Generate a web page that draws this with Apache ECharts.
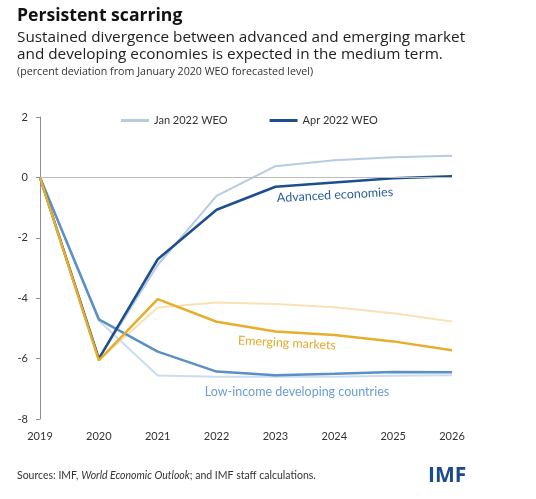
<!DOCTYPE html>
<html>
<head>
<meta charset="utf-8">
<script src="https://cdn.jsdelivr.net/npm/echarts@6/dist/echarts.min.js"></script>
<style>
  html, body { margin: 0; padding: 0; background: #fff; }
  #chart { width: 536px; height: 499px; }
</style>
</head>
<body>
<div id="chart"></div>
<script>
// data
const years = ['2019', '2020', '2021', '2022', '2023', '2024', '2025', '2026'];
const yTicks = [-8, -6, -4, -2, 0, 2];

const advancedJan = [0, -6.0, -2.9, -0.61, 0.37, 0.57, 0.67, 0.72];
const advancedApr = [0, -6.0, -2.71, -1.07, -0.31, -0.17, -0.03, 0.04];
const emergingJan = [0, -6.05, -4.31, -4.14, -4.19, -4.3, -4.5, -4.77];
const emergingApr = [0, -6.06, -4.03, -4.78, -5.1, -5.22, -5.43, -5.72];
const lidcJan = [0, -4.75, -6.56, -6.6, -6.6, -6.6, -6.57, -6.55];
const lidcApr = [0, -4.7, -5.77, -6.43, -6.55, -6.5, -6.44, -6.45];

const chart = echarts.init(document.getElementById('chart'));
const FONT = 'Lato, "Noto Sans", sans-serif';
const HEAD = '"Open Sans", Lato, sans-serif';

function line(name, data, color, width, z) {
    return {
        name: name,
        type: 'line',
        data: data,
        symbol: 'none',
        smooth: false,
        z: z,
        lineStyle: { color: color, width: width },
        itemStyle: { color: color },
        emphasis: { disabled: true }
    };
}

const series = [
    line('Jan 2022 WEO', advancedJan, '#b7cce1', 2, 2),
    line('Jan 2022 WEO', emergingJan, '#f7e3b3', 2, 2),
    line('Jan 2022 WEO', lidcJan, '#cadcee', 2, 2),
    line('Apr 2022 WEO', advancedApr, '#1d4f8e', 2.5, 4),
    line('Apr 2022 WEO', emergingApr, '#e6ae2c', 2.5, 4),
    line('Apr 2022 WEO', lidcApr, '#5b8fc6', 2.5, 3)
];
// zero line
series[0].markLine = {
    silent: true,
    symbol: 'none',
    label: { show: false },
    lineStyle: { color: '#bdbdbd', width: 1, type: 'solid' },
    data: [{ yAxis: 0 }]
};

const option = {
    animation: false,
    textStyle: { fontFamily: FONT },
    grid: { left: 40, right: 84, top: 117, bottom: 80 },
    legend: {
        left: 116,
        top: 110,
        icon: 'rect',
        itemWidth: 28,
        itemHeight: 3,
        itemGap: 42,
        textStyle: { fontFamily: FONT, fontSize: 11, color: '#333' },
        data: [
            { name: 'Jan 2022 WEO', itemStyle: { color: '#b7cce1' } },
            { name: 'Apr 2022 WEO', itemStyle: { color: '#1d4f8e' } }
        ]
    },
    xAxis: {
        type: 'category',
        data: years,
        boundaryGap: false,
        axisLine: { show: false },
        axisTick: { show: false },
        axisLabel: { margin: 12, fontSize: 11, color: '#333', fontFamily: FONT },
        splitLine: { show: false }
    },
    yAxis: {
        type: 'value',
        min: yTicks[0],
        max: yTicks[yTicks.length - 1],
        interval: 2,
        axisLine: { show: true, lineStyle: { color: '#8c8c8c', width: 1 } },
        axisTick: { show: true, length: 4, lineStyle: { color: '#8c8c8c' } },
        axisLabel: { margin: 12, fontSize: 11, color: '#333', fontFamily: FONT },
        splitLine: { show: false }
    },
    series: series,
    graphic: [
        {
            type: 'text', left: 17, top: 7,
            style: { text: 'Persistent scarring', font: 'bold 17.6px ' + HEAD, fill: '#111' }
        },
        {
            type: 'text', left: 17, top: 29,
            style: {
                text: 'Sustained divergence between advanced and emerging market\nand developing economies is expected in the medium term.',
                font: '15.3px ' + HEAD, fill: '#222', lineHeight: 17
            }
        },
        {
            type: 'text', left: 17, top: 66,
            style: { text: '(percent deviation from January 2020 WEO forecasted level)', font: '10.7px ' + HEAD, fill: '#333' }
        },
        {
            type: 'text', x: 335, y: 195, rotation: 3 * Math.PI / 180,
            style: { text: 'Advanced economies', font: '12.5px ' + FONT, fill: '#2a5e9c', align: 'center', verticalAlign: 'middle' }
        },
        {
            type: 'text', x: 287, y: 343, rotation: -3 * Math.PI / 180,
            style: { text: 'Emerging markets', font: '12.5px ' + FONT, fill: '#e3aa2e', align: 'center', verticalAlign: 'middle' }
        },
        {
            type: 'text', x: 297, y: 392,
            style: { text: 'Low-income developing countries', font: '12.5px ' + FONT, fill: '#6b9dd2', align: 'center', verticalAlign: 'middle' }
        },
        {
            type: 'text', left: 17, top: 470,
            style: {
                text: '{n|Sources: IMF, }{i|World Economic Outlook}{n|; and IMF staff calculations.}',
                rich: {
                    n: { font: '10.5px ' + FONT, fill: '#333' },
                    i: { font: 'italic 10.5px ' + FONT, fill: '#333' }
                }
            }
        },
        {
            type: 'text', left: 428, top: 466,
            style: { text: 'IMF', font: 'bold 21px ' + HEAD, fill: '#1b4b8c' }
        }
    ]
};

chart.setOption(option);
</script>
</body>
</html>
